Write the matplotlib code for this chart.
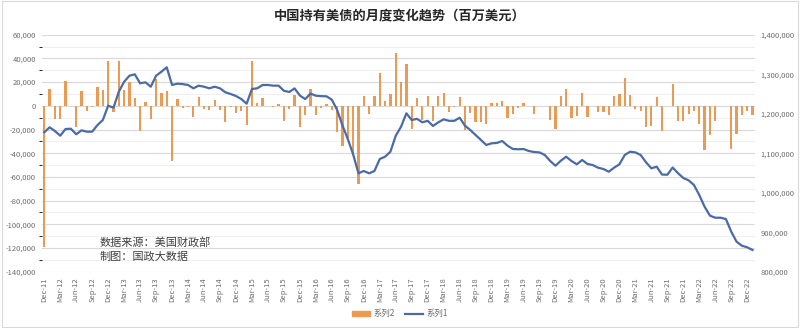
import matplotlib
matplotlib.use("Agg")
import matplotlib.pyplot as plt
from matplotlib.patches import Rectangle
from matplotlib.lines import Line2D
from matplotlib.patches import Patch
from matplotlib.ticker import FuncFormatter, MultipleLocator
import pandas as pd

plt.rcParams["font.family"] = ["Noto Sans CJK SC", "DejaVu Sans"]

TITLE = "中国持有美债的月度变化趋势（百万美元）"
NOTE_LINES = ["数据来源：美国财政部", "制图：国政大数据"]

# monthly, Dec 2011 .. Jan 2023
months = pd.date_range("2011-12-01", periods=134, freq="MS")

# 系列2: month-over-month change (left axis)
change = [
    -119000, 14000, -11200, -11200, 20800, -500, -17700, 12700, -4500, -1000,
    16000, 13200, 38000, -5000, 38000, 13000, 20000, 6500, -21400, 3000,
    -11300, 22300, 11000, 12500, -46500, 5700, -2000, -1000, -9300, 7600,
    -3000, -3700, 4800, -3500, -13500, -1200, -6000, -4700, -16000, 37700,
    2000, 6800, -500, -1000, 1200, -12700, -3000, 9200, -18300, -8000,
    14000, -7900, -1500, 1200, -3200, -22200, -34200, -27000, -40500, -66300,
    8300, -7200, 8100, 28100, 3700, 9700, 44200, 20500, 34900, -19400,
    6800, -12000, 8100, -13000, 8200, 11000, -5600, -800, 7700, -20000,
    -5800, -13500, -13500, -15000, 2000, 2000, 4000, -10400, -6900, -1500,
    2000, -500, -6500, -500, -500, -12000, -19400, 8300, 13800, -10700,
    -8700, 11000, -9300, -500, -5000, -5000, -7900, 8200, 9900, 23100,
    8700, -3000, -4200, -18200, -17200, 7100, -21200, -300, 18000, -12600,
    -12600, -6900, -4800, -15700, -37400, -24700, -12800, -300, -300, -36800,
    -23700, -7600, -4300, -7900,
]

# 系列1: holdings (right axis)
holdings = [
    1152900, 1165600, 1156200, 1144300, 1161300, 1162000, 1147900, 1157900, 1154500, 1154500,
    1171400, 1184000, 1220300, 1215200, 1255700, 1281000, 1296200, 1299700, 1277000, 1279500,
    1268300, 1296200, 1306300, 1317500, 1272700, 1276000, 1275000, 1272700, 1264300, 1270900,
    1268300, 1264300, 1268300, 1264300, 1254200, 1249900, 1244800, 1237200, 1225300, 1262500,
    1264300, 1272700, 1272700, 1271000, 1271000, 1258000, 1255000, 1264000, 1246000, 1237000,
    1251000, 1245500, 1244500, 1244000, 1235500, 1209400, 1170000, 1136000, 1097000, 1049100,
    1055000, 1049100, 1055000, 1085300, 1091200, 1103800, 1144300, 1167100, 1201000, 1184000,
    1187000, 1178200, 1182000, 1169000, 1178200, 1185800, 1182000, 1182000, 1189900, 1169600,
    1158700, 1146100, 1133400, 1120800, 1125000, 1126000, 1130900, 1119000, 1110600, 1110000,
    1110600, 1105600, 1103000, 1102000, 1095400, 1080300, 1068300, 1081000, 1091200, 1080300,
    1071900, 1082800, 1072700, 1070000, 1063300, 1060000, 1053200, 1063300, 1071900, 1095400,
    1103800, 1102000, 1095400, 1077000, 1061800, 1065800, 1046000, 1045500, 1063800, 1049500,
    1037200, 1031300, 1019500, 994200, 964600, 942000, 936700, 936700, 933400, 901300,
    876000, 865800, 861800, 855000,
]

BAR_COLOR = "#E99A55"
LINE_COLOR = "#4A6BA5"
TEXT_COLOR = "#6E6E6E"

fig = plt.figure(figsize=(8, 3.28), dpi=100)
ax = fig.add_axes([0.052, 0.1716, 0.892, 0.7226])
ax2 = ax.twinx()

x = list(range(len(months)))
ax.bar(x, change, width=0.42, color=BAR_COLOR, zorder=3)
ax2.plot(x, holdings, color=LINE_COLOR, linewidth=1.6, zorder=4)

ax.set_xlim(-0.5, len(months) - 0.5)
ax.set_ylim(-140000, 60000)
ax2.set_ylim(800000, 1400000)

ax.yaxis.set_major_locator(MultipleLocator(20000))
ax.yaxis.set_minor_locator(MultipleLocator(10000))
ax2.yaxis.set_major_locator(MultipleLocator(100000))
fmt = FuncFormatter(lambda v, p: f"{v:,.0f}")
ax.yaxis.set_major_formatter(fmt)
ax2.yaxis.set_major_formatter(fmt)

ax.grid(axis="y", which="major", color="#D9D9D9", linewidth=0.8, zorder=0)
ax.grid(axis="y", which="minor", color="#EFEFEF", linewidth=0.7, zorder=0)
ax.set_axisbelow(True)

tick_pos = x[::3]
ax.set_xticks(tick_pos)
ax.set_xticklabels([months[i].strftime("%b-%y") for i in tick_pos],
                   rotation=90, fontsize=5.5, color=TEXT_COLOR)

for a in (ax, ax2):
    for s in a.spines.values():
        s.set_visible(False)
    a.tick_params(length=0)
ax.tick_params(axis="y", labelsize=5.5, labelcolor=TEXT_COLOR, pad=4)
ax.tick_params(axis="x", pad=4)
ax2.tick_params(axis="y", labelsize=5.5, labelcolor=TEXT_COLOR, pad=4)

fig.text(0.5, 0.952, TITLE, ha="center", va="center", fontsize=9.5,
         fontweight="bold", color="#262626")
fig.text(0.125, 0.26, NOTE_LINES[0], ha="left", va="center", fontsize=8, color="#404040")
fig.text(0.125, 0.218, NOTE_LINES[1], ha="left", va="center", fontsize=8, color="#404040")

handles = [Patch(color=BAR_COLOR), Line2D([0], [0], color=LINE_COLOR, linewidth=1.6)]
fig.legend(handles, ["系列2", "系列1"], loc="center", bbox_to_anchor=(0.5, 0.043),
           ncol=2, frameon=False, fontsize=6, handlelength=2.2, handleheight=0.5,
           columnspacing=1.2, handletextpad=0.4, labelcolor=TEXT_COLOR)

fig.patches.append(Rectangle((0.002, 0.004), 0.996, 0.992, transform=fig.transFigure,
                             fill=False, edgecolor="#D9D9D9", linewidth=0.8))

fig.savefig("out.png", dpi=100)
